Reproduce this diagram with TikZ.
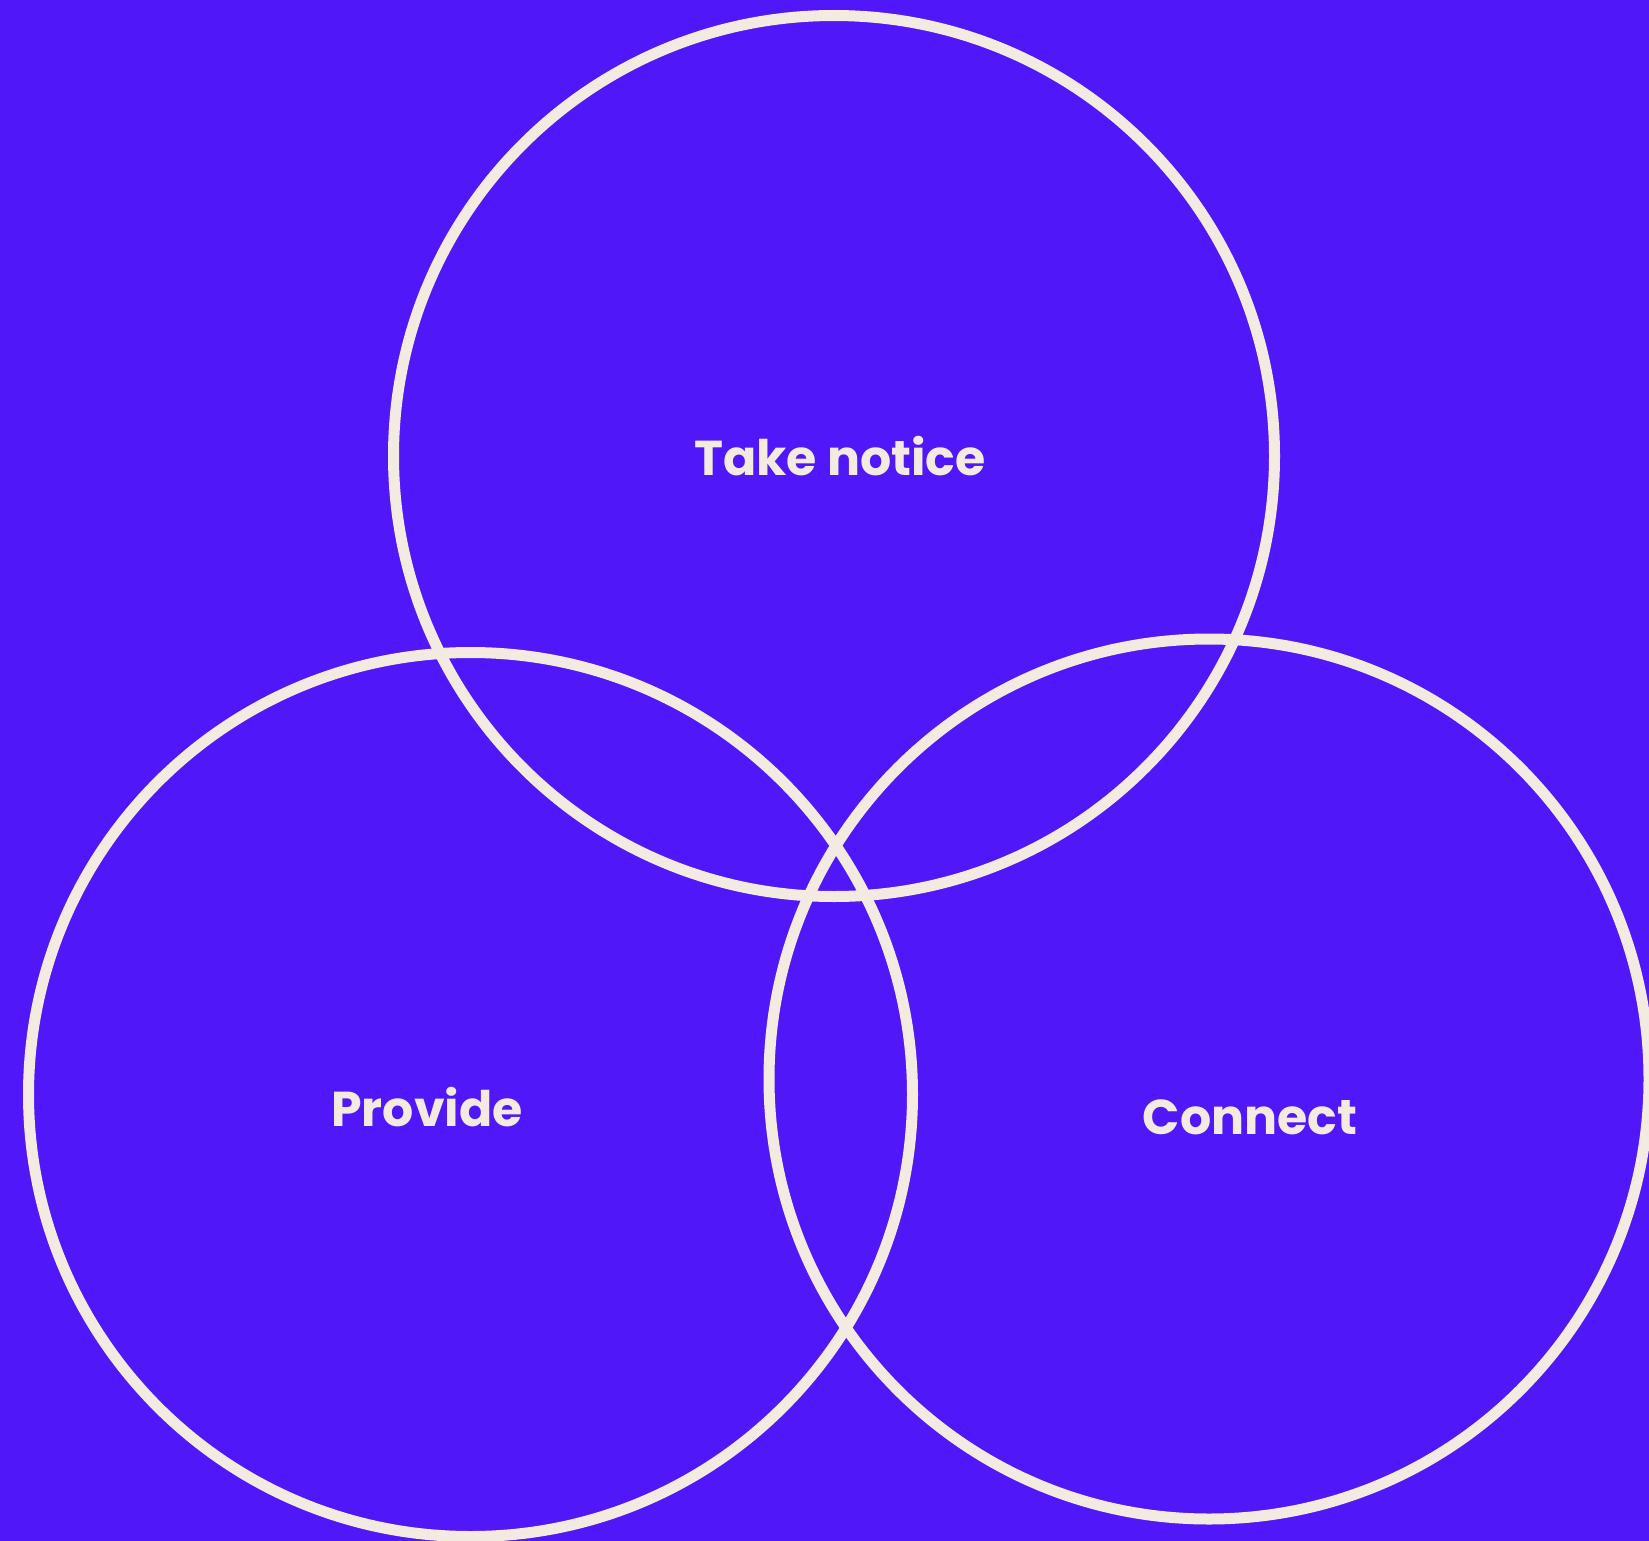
\documentclass[tikz,border=0pt]{standalone}
\usepackage{fontspec}
\setmainfont{Poppins}
\definecolor{bgc}{HTML}{5018F8}
\definecolor{ink}{HTML}{F3EAE2}
\begin{document}
\begin{tikzpicture}[x=1pt,y=-1pt,
  ring/.style={circle, draw=ink, line width=11pt, inner sep=0pt, minimum size=#1},
  lbl/.style={anchor=base, text=ink, font=\fontsize{49}{58}\selectfont\bfseries}]
\fill[bgc] (0,0) rectangle (1649,1541);
\useasboundingbox (0,0) rectangle (1649,1541);
\node[ring=881pt] (top) at (834,456) {};
\node[ring=884pt] (left) at (470.5,1094.5) {};
\node[ring=880pt] (right) at (1209,1079) {};
\node[lbl] (t1) at (840,475) {Take notice};
\node[lbl] (t2) at (427,1126) {Provide};
\node[lbl] (t3) at (1250,1134) {Connect};
\end{tikzpicture}
\end{document}
